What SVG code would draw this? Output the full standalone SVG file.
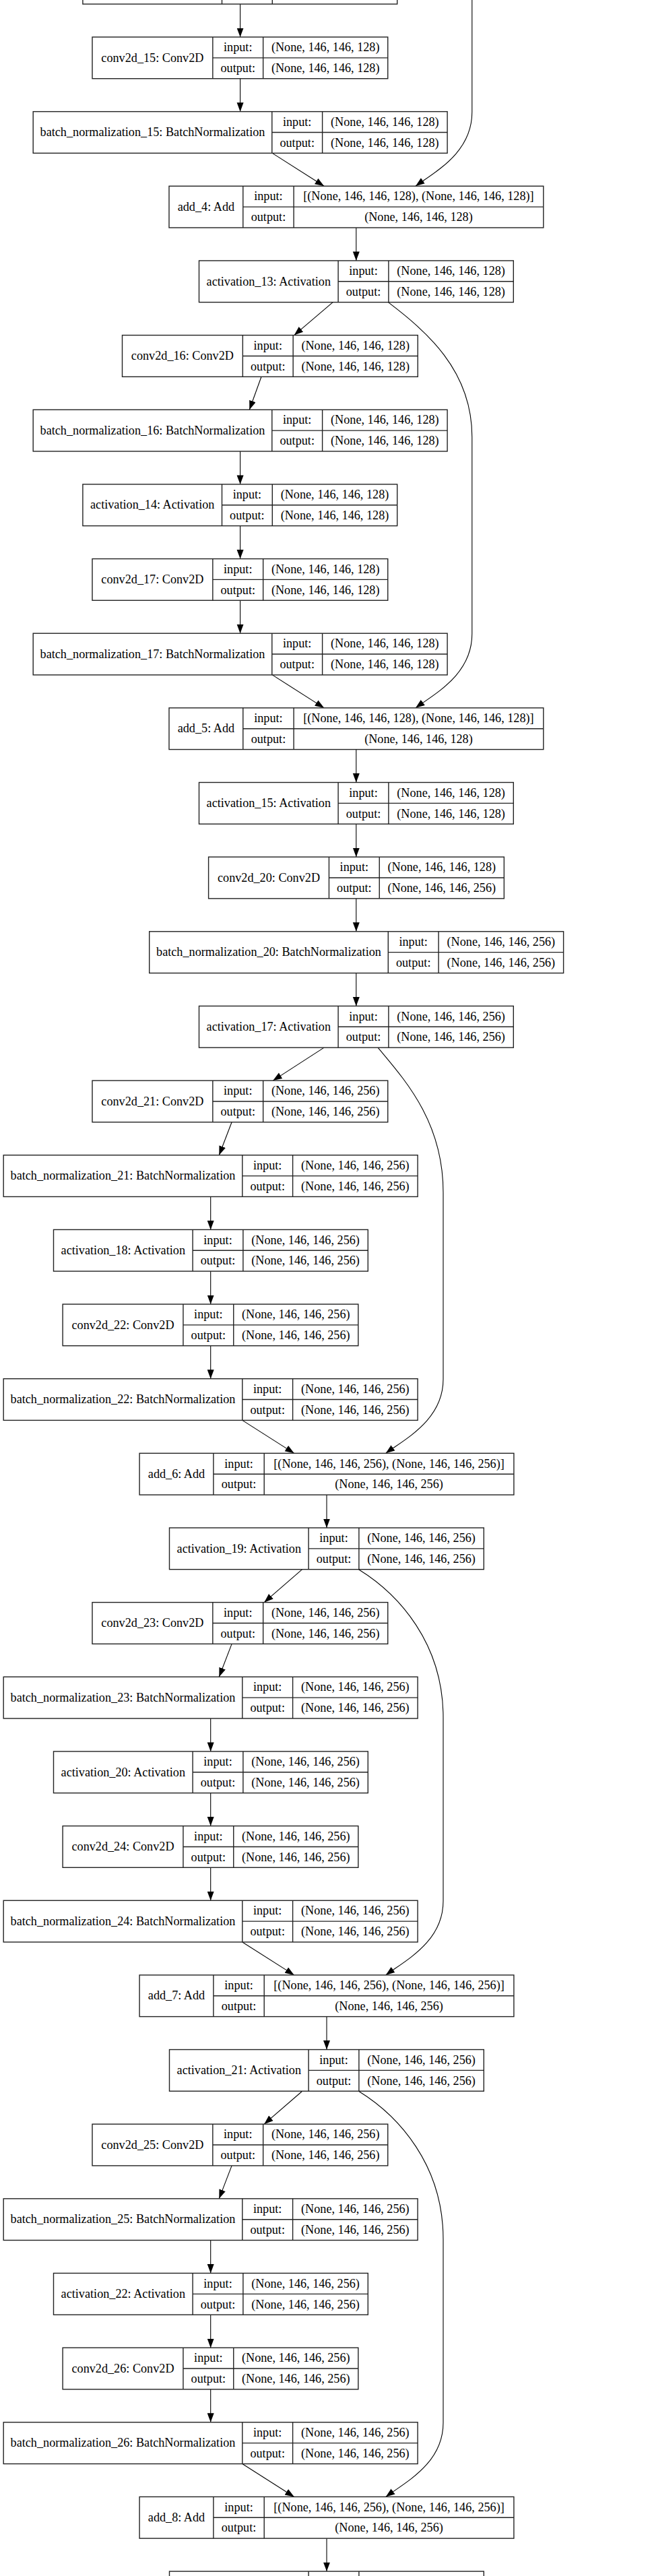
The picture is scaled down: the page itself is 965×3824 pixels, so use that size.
<svg xmlns="http://www.w3.org/2000/svg" width="965" height="3824" viewBox="0 0 965 3824">
<style>
.b{fill:#fff;stroke:#222;stroke-width:1.4}
.d{fill:none;stroke:#222;stroke-width:1.4}
text{font-family:"Liberation Serif","Times New Roman",serif;font-size:18.2px;fill:#000;text-anchor:middle}
.e{fill:none;stroke:#000;stroke-width:1.1;marker-end:url(#ah)}
</style>
<defs>
<marker id="ah" markerUnits="userSpaceOnUse" markerWidth="14" markerHeight="11" refX="13.5" refY="5" orient="auto"><path d="M0,0L13.5,5L0,10z" fill="#000"/></marker>
</defs>
<rect width="965" height="3824" fill="#fff"/>
<g id="connectors">
<path class="e" d="M356.6,6.05V55"/>
<path class="e" d="M356.6,116.7V165.65"/>
<path class="e" d="M404.3,227.35L481.1,276.3"/>
<path class="e" d="M700.8,0V166.3C700.8,226.3 647,254.3 617,276.3"/>
<path class="e" d="M528.8,338V386.95"/>
<path class="e" d="M494.2,448.65L436.7,497.6"/>
<path class="e" d="M576.3,448.65C631.3,490.65 700.8,548.65 700.8,648.65L700.8,940.85C700.8,1000.85 647,1028.85 617,1050.85"/>
<path class="e" d="M388,559.3L370.3,608.25"/>
<path class="e" d="M356.6,669.95V718.9"/>
<path class="e" d="M356.6,780.6V829.55"/>
<path class="e" d="M356.6,891.25V940.2"/>
<path class="e" d="M404.3,1001.9L481.1,1050.85"/>
<path class="e" d="M528.8,1112.55V1161.5"/>
<path class="e" d="M528.8,1223.2V1272.15"/>
<path class="e" d="M528.8,1333.85V1382.8"/>
<path class="e" d="M528.8,1444.5V1493.45"/>
<path class="e" d="M481.1,1555.15L405.3,1604.1"/>
<path class="e" d="M561.1,1555.15C601.1,1603.15 658,1665.15 658,1770.15L658,2047.35C658,2107.35 602.7,2135.35 572.7,2157.35"/>
<path class="e" d="M344.1,1665.8L325.3,1714.75"/>
<path class="e" d="M312.7,1776.45V1825.4"/>
<path class="e" d="M312.7,1887.1V1936.05"/>
<path class="e" d="M312.7,1997.75V2046.7"/>
<path class="e" d="M359.8,2108.4L436.7,2157.35"/>
<path class="e" d="M485,2219.05V2268"/>
<path class="e" d="M448.7,2329.7L392.2,2378.65"/>
<path class="e" d="M532.4,2329.7C592.4,2366.7 658,2439.7 658,2549.7L658,2821.9C658,2881.9 602.7,2909.9 572.7,2931.9"/>
<path class="e" d="M344.1,2440.35L325.3,2489.3"/>
<path class="e" d="M312.7,2551V2599.95"/>
<path class="e" d="M312.7,2661.65V2710.6"/>
<path class="e" d="M312.7,2772.3V2821.25"/>
<path class="e" d="M359.8,2882.95L436.7,2931.9"/>
<path class="e" d="M485,2993.6V3042.55"/>
<path class="e" d="M448.7,3104.25L392.2,3153.2"/>
<path class="e" d="M532.4,3104.25C592.4,3141.25 658,3214.25 658,3324.25L658,3596.45C658,3656.45 602.7,3684.45 572.7,3706.45"/>
<path class="e" d="M344.1,3214.9L325.3,3263.85"/>
<path class="e" d="M312.7,3325.55V3374.5"/>
<path class="e" d="M312.7,3436.2V3485.15"/>
<path class="e" d="M312.7,3546.85V3595.8"/>
<path class="e" d="M359.8,3657.5L436.7,3706.45"/>
<path class="e" d="M485,3768.15V3817.1"/>
</g>
<g id="activation_12" transform="translate(122.9,-55.65)"><rect class="b" width="466.8" height="61.7"/><path class="d" d="M206.6,0V61.7M281.4,0V61.7M206.6,30.85H466.8"/></g>
<g id="conv2d_15" transform="translate(137,55)"><rect class="b" width="438.75" height="61.7"/><path class="d" d="M178.85,0V61.7M253.65,0V61.7M178.85,30.85H438.75"/><text x="89.4" y="36.6">conv2d_15: Conv2D</text><text x="216.25" y="21.2">input:</text><text x="216.25" y="52">output:</text><text x="346.2" y="21.2">(None, 146, 146, 128)</text><text x="346.2" y="52">(None, 146, 146, 128)</text></g>
<g id="batch_normalization_15" transform="translate(49.2,165.65)"><rect class="b" width="614.9" height="61.7"/><path class="d" d="M354.6,0V61.7M429.4,0V61.7M354.6,30.85H614.9"/><text x="177.3" y="36.6">batch_normalization_15: BatchNormalization</text><text x="392" y="21.2">input:</text><text x="392" y="52">output:</text><text x="522.15" y="21.2">(None, 146, 146, 128)</text><text x="522.15" y="52">(None, 146, 146, 128)</text></g>
<g id="add_4" transform="translate(251,276.3)"><rect class="b" width="555.8" height="61.7"/><path class="d" d="M109.8,0V61.7M185.1,0V61.7M109.8,30.85H555.8"/><text x="54.9" y="36.6">add_4: Add</text><text x="147.45" y="21.2">input:</text><text x="147.45" y="52">output:</text><text x="370.45" y="21.2">[(None, 146, 146, 128), (None, 146, 146, 128)]</text><text x="370.45" y="52">(None, 146, 146, 128)</text></g>
<g id="activation_13" transform="translate(295.5,386.95)"><rect class="b" width="466.8" height="61.7"/><path class="d" d="M206.6,0V61.7M281.4,0V61.7M206.6,30.85H466.8"/><text x="103.3" y="36.6">activation_13: Activation</text><text x="244" y="21.2">input:</text><text x="244" y="52">output:</text><text x="374.1" y="21.2">(None, 146, 146, 128)</text><text x="374.1" y="52">(None, 146, 146, 128)</text></g>
<g id="conv2d_16" transform="translate(181.5,497.6)"><rect class="b" width="438.75" height="61.7"/><path class="d" d="M178.85,0V61.7M253.65,0V61.7M178.85,30.85H438.75"/><text x="89.4" y="36.6">conv2d_16: Conv2D</text><text x="216.25" y="21.2">input:</text><text x="216.25" y="52">output:</text><text x="346.2" y="21.2">(None, 146, 146, 128)</text><text x="346.2" y="52">(None, 146, 146, 128)</text></g>
<g id="batch_normalization_16" transform="translate(49.2,608.25)"><rect class="b" width="614.9" height="61.7"/><path class="d" d="M354.6,0V61.7M429.4,0V61.7M354.6,30.85H614.9"/><text x="177.3" y="36.6">batch_normalization_16: BatchNormalization</text><text x="392" y="21.2">input:</text><text x="392" y="52">output:</text><text x="522.15" y="21.2">(None, 146, 146, 128)</text><text x="522.15" y="52">(None, 146, 146, 128)</text></g>
<g id="activation_14" transform="translate(122.9,718.9)"><rect class="b" width="466.8" height="61.7"/><path class="d" d="M206.6,0V61.7M281.4,0V61.7M206.6,30.85H466.8"/><text x="103.3" y="36.6">activation_14: Activation</text><text x="244" y="21.2">input:</text><text x="244" y="52">output:</text><text x="374.1" y="21.2">(None, 146, 146, 128)</text><text x="374.1" y="52">(None, 146, 146, 128)</text></g>
<g id="conv2d_17" transform="translate(137,829.55)"><rect class="b" width="438.75" height="61.7"/><path class="d" d="M178.85,0V61.7M253.65,0V61.7M178.85,30.85H438.75"/><text x="89.4" y="36.6">conv2d_17: Conv2D</text><text x="216.25" y="21.2">input:</text><text x="216.25" y="52">output:</text><text x="346.2" y="21.2">(None, 146, 146, 128)</text><text x="346.2" y="52">(None, 146, 146, 128)</text></g>
<g id="batch_normalization_17" transform="translate(49.2,940.2)"><rect class="b" width="614.9" height="61.7"/><path class="d" d="M354.6,0V61.7M429.4,0V61.7M354.6,30.85H614.9"/><text x="177.3" y="36.6">batch_normalization_17: BatchNormalization</text><text x="392" y="21.2">input:</text><text x="392" y="52">output:</text><text x="522.15" y="21.2">(None, 146, 146, 128)</text><text x="522.15" y="52">(None, 146, 146, 128)</text></g>
<g id="add_5" transform="translate(251,1050.85)"><rect class="b" width="555.8" height="61.7"/><path class="d" d="M109.8,0V61.7M185.1,0V61.7M109.8,30.85H555.8"/><text x="54.9" y="36.6">add_5: Add</text><text x="147.45" y="21.2">input:</text><text x="147.45" y="52">output:</text><text x="370.45" y="21.2">[(None, 146, 146, 128), (None, 146, 146, 128)]</text><text x="370.45" y="52">(None, 146, 146, 128)</text></g>
<g id="activation_15" transform="translate(295.5,1161.5)"><rect class="b" width="466.8" height="61.7"/><path class="d" d="M206.6,0V61.7M281.4,0V61.7M206.6,30.85H466.8"/><text x="103.3" y="36.6">activation_15: Activation</text><text x="244" y="21.2">input:</text><text x="244" y="52">output:</text><text x="374.1" y="21.2">(None, 146, 146, 128)</text><text x="374.1" y="52">(None, 146, 146, 128)</text></g>
<g id="conv2d_20" transform="translate(309.6,1272.15)"><rect class="b" width="438.75" height="61.7"/><path class="d" d="M178.85,0V61.7M253.65,0V61.7M178.85,30.85H438.75"/><text x="89.4" y="36.6">conv2d_20: Conv2D</text><text x="216.25" y="21.2">input:</text><text x="216.25" y="52">output:</text><text x="346.2" y="21.2">(None, 146, 146, 128)</text><text x="346.2" y="52">(None, 146, 146, 256)</text></g>
<g id="batch_normalization_20" transform="translate(221.7,1382.8)"><rect class="b" width="614.9" height="61.7"/><path class="d" d="M354.6,0V61.7M429.4,0V61.7M354.6,30.85H614.9"/><text x="177.3" y="36.6">batch_normalization_20: BatchNormalization</text><text x="392" y="21.2">input:</text><text x="392" y="52">output:</text><text x="522.15" y="21.2">(None, 146, 146, 256)</text><text x="522.15" y="52">(None, 146, 146, 256)</text></g>
<g id="activation_17" transform="translate(295.5,1493.45)"><rect class="b" width="466.8" height="61.7"/><path class="d" d="M206.6,0V61.7M281.4,0V61.7M206.6,30.85H466.8"/><text x="103.3" y="36.6">activation_17: Activation</text><text x="244" y="21.2">input:</text><text x="244" y="52">output:</text><text x="374.1" y="21.2">(None, 146, 146, 256)</text><text x="374.1" y="52">(None, 146, 146, 256)</text></g>
<g id="conv2d_21" transform="translate(137,1604.1)"><rect class="b" width="438.75" height="61.7"/><path class="d" d="M178.85,0V61.7M253.65,0V61.7M178.85,30.85H438.75"/><text x="89.4" y="36.6">conv2d_21: Conv2D</text><text x="216.25" y="21.2">input:</text><text x="216.25" y="52">output:</text><text x="346.2" y="21.2">(None, 146, 146, 256)</text><text x="346.2" y="52">(None, 146, 146, 256)</text></g>
<g id="batch_normalization_21" transform="translate(5.2,1714.75)"><rect class="b" width="614.9" height="61.7"/><path class="d" d="M354.6,0V61.7M429.4,0V61.7M354.6,30.85H614.9"/><text x="177.3" y="36.6">batch_normalization_21: BatchNormalization</text><text x="392" y="21.2">input:</text><text x="392" y="52">output:</text><text x="522.15" y="21.2">(None, 146, 146, 256)</text><text x="522.15" y="52">(None, 146, 146, 256)</text></g>
<g id="activation_18" transform="translate(79.5,1825.4)"><rect class="b" width="466.8" height="61.7"/><path class="d" d="M206.6,0V61.7M281.4,0V61.7M206.6,30.85H466.8"/><text x="103.3" y="36.6">activation_18: Activation</text><text x="244" y="21.2">input:</text><text x="244" y="52">output:</text><text x="374.1" y="21.2">(None, 146, 146, 256)</text><text x="374.1" y="52">(None, 146, 146, 256)</text></g>
<g id="conv2d_22" transform="translate(93.1,1936.05)"><rect class="b" width="438.75" height="61.7"/><path class="d" d="M178.85,0V61.7M253.65,0V61.7M178.85,30.85H438.75"/><text x="89.4" y="36.6">conv2d_22: Conv2D</text><text x="216.25" y="21.2">input:</text><text x="216.25" y="52">output:</text><text x="346.2" y="21.2">(None, 146, 146, 256)</text><text x="346.2" y="52">(None, 146, 146, 256)</text></g>
<g id="batch_normalization_22" transform="translate(5.2,2046.7)"><rect class="b" width="614.9" height="61.7"/><path class="d" d="M354.6,0V61.7M429.4,0V61.7M354.6,30.85H614.9"/><text x="177.3" y="36.6">batch_normalization_22: BatchNormalization</text><text x="392" y="21.2">input:</text><text x="392" y="52">output:</text><text x="522.15" y="21.2">(None, 146, 146, 256)</text><text x="522.15" y="52">(None, 146, 146, 256)</text></g>
<g id="add_6" transform="translate(207.1,2157.35)"><rect class="b" width="555.8" height="61.7"/><path class="d" d="M109.8,0V61.7M185.1,0V61.7M109.8,30.85H555.8"/><text x="54.9" y="36.6">add_6: Add</text><text x="147.45" y="21.2">input:</text><text x="147.45" y="52">output:</text><text x="370.45" y="21.2">[(None, 146, 146, 256), (None, 146, 146, 256)]</text><text x="370.45" y="52">(None, 146, 146, 256)</text></g>
<g id="activation_19" transform="translate(251.5,2268)"><rect class="b" width="466.8" height="61.7"/><path class="d" d="M206.6,0V61.7M281.4,0V61.7M206.6,30.85H466.8"/><text x="103.3" y="36.6">activation_19: Activation</text><text x="244" y="21.2">input:</text><text x="244" y="52">output:</text><text x="374.1" y="21.2">(None, 146, 146, 256)</text><text x="374.1" y="52">(None, 146, 146, 256)</text></g>
<g id="conv2d_23" transform="translate(137,2378.65)"><rect class="b" width="438.75" height="61.7"/><path class="d" d="M178.85,0V61.7M253.65,0V61.7M178.85,30.85H438.75"/><text x="89.4" y="36.6">conv2d_23: Conv2D</text><text x="216.25" y="21.2">input:</text><text x="216.25" y="52">output:</text><text x="346.2" y="21.2">(None, 146, 146, 256)</text><text x="346.2" y="52">(None, 146, 146, 256)</text></g>
<g id="batch_normalization_23" transform="translate(5.2,2489.3)"><rect class="b" width="614.9" height="61.7"/><path class="d" d="M354.6,0V61.7M429.4,0V61.7M354.6,30.85H614.9"/><text x="177.3" y="36.6">batch_normalization_23: BatchNormalization</text><text x="392" y="21.2">input:</text><text x="392" y="52">output:</text><text x="522.15" y="21.2">(None, 146, 146, 256)</text><text x="522.15" y="52">(None, 146, 146, 256)</text></g>
<g id="activation_20" transform="translate(79.5,2599.95)"><rect class="b" width="466.8" height="61.7"/><path class="d" d="M206.6,0V61.7M281.4,0V61.7M206.6,30.85H466.8"/><text x="103.3" y="36.6">activation_20: Activation</text><text x="244" y="21.2">input:</text><text x="244" y="52">output:</text><text x="374.1" y="21.2">(None, 146, 146, 256)</text><text x="374.1" y="52">(None, 146, 146, 256)</text></g>
<g id="conv2d_24" transform="translate(93.1,2710.6)"><rect class="b" width="438.75" height="61.7"/><path class="d" d="M178.85,0V61.7M253.65,0V61.7M178.85,30.85H438.75"/><text x="89.4" y="36.6">conv2d_24: Conv2D</text><text x="216.25" y="21.2">input:</text><text x="216.25" y="52">output:</text><text x="346.2" y="21.2">(None, 146, 146, 256)</text><text x="346.2" y="52">(None, 146, 146, 256)</text></g>
<g id="batch_normalization_24" transform="translate(5.2,2821.25)"><rect class="b" width="614.9" height="61.7"/><path class="d" d="M354.6,0V61.7M429.4,0V61.7M354.6,30.85H614.9"/><text x="177.3" y="36.6">batch_normalization_24: BatchNormalization</text><text x="392" y="21.2">input:</text><text x="392" y="52">output:</text><text x="522.15" y="21.2">(None, 146, 146, 256)</text><text x="522.15" y="52">(None, 146, 146, 256)</text></g>
<g id="add_7" transform="translate(207.1,2931.9)"><rect class="b" width="555.8" height="61.7"/><path class="d" d="M109.8,0V61.7M185.1,0V61.7M109.8,30.85H555.8"/><text x="54.9" y="36.6">add_7: Add</text><text x="147.45" y="21.2">input:</text><text x="147.45" y="52">output:</text><text x="370.45" y="21.2">[(None, 146, 146, 256), (None, 146, 146, 256)]</text><text x="370.45" y="52">(None, 146, 146, 256)</text></g>
<g id="activation_21" transform="translate(251.5,3042.55)"><rect class="b" width="466.8" height="61.7"/><path class="d" d="M206.6,0V61.7M281.4,0V61.7M206.6,30.85H466.8"/><text x="103.3" y="36.6">activation_21: Activation</text><text x="244" y="21.2">input:</text><text x="244" y="52">output:</text><text x="374.1" y="21.2">(None, 146, 146, 256)</text><text x="374.1" y="52">(None, 146, 146, 256)</text></g>
<g id="conv2d_25" transform="translate(137,3153.2)"><rect class="b" width="438.75" height="61.7"/><path class="d" d="M178.85,0V61.7M253.65,0V61.7M178.85,30.85H438.75"/><text x="89.4" y="36.6">conv2d_25: Conv2D</text><text x="216.25" y="21.2">input:</text><text x="216.25" y="52">output:</text><text x="346.2" y="21.2">(None, 146, 146, 256)</text><text x="346.2" y="52">(None, 146, 146, 256)</text></g>
<g id="batch_normalization_25" transform="translate(5.2,3263.85)"><rect class="b" width="614.9" height="61.7"/><path class="d" d="M354.6,0V61.7M429.4,0V61.7M354.6,30.85H614.9"/><text x="177.3" y="36.6">batch_normalization_25: BatchNormalization</text><text x="392" y="21.2">input:</text><text x="392" y="52">output:</text><text x="522.15" y="21.2">(None, 146, 146, 256)</text><text x="522.15" y="52">(None, 146, 146, 256)</text></g>
<g id="activation_22" transform="translate(79.5,3374.5)"><rect class="b" width="466.8" height="61.7"/><path class="d" d="M206.6,0V61.7M281.4,0V61.7M206.6,30.85H466.8"/><text x="103.3" y="36.6">activation_22: Activation</text><text x="244" y="21.2">input:</text><text x="244" y="52">output:</text><text x="374.1" y="21.2">(None, 146, 146, 256)</text><text x="374.1" y="52">(None, 146, 146, 256)</text></g>
<g id="conv2d_26" transform="translate(93.1,3485.15)"><rect class="b" width="438.75" height="61.7"/><path class="d" d="M178.85,0V61.7M253.65,0V61.7M178.85,30.85H438.75"/><text x="89.4" y="36.6">conv2d_26: Conv2D</text><text x="216.25" y="21.2">input:</text><text x="216.25" y="52">output:</text><text x="346.2" y="21.2">(None, 146, 146, 256)</text><text x="346.2" y="52">(None, 146, 146, 256)</text></g>
<g id="batch_normalization_26" transform="translate(5.2,3595.8)"><rect class="b" width="614.9" height="61.7"/><path class="d" d="M354.6,0V61.7M429.4,0V61.7M354.6,30.85H614.9"/><text x="177.3" y="36.6">batch_normalization_26: BatchNormalization</text><text x="392" y="21.2">input:</text><text x="392" y="52">output:</text><text x="522.15" y="21.2">(None, 146, 146, 256)</text><text x="522.15" y="52">(None, 146, 146, 256)</text></g>
<g id="add_8" transform="translate(207.1,3706.45)"><rect class="b" width="555.8" height="61.7"/><path class="d" d="M109.8,0V61.7M185.1,0V61.7M109.8,30.85H555.8"/><text x="54.9" y="36.6">add_8: Add</text><text x="147.45" y="21.2">input:</text><text x="147.45" y="52">output:</text><text x="370.45" y="21.2">[(None, 146, 146, 256), (None, 146, 146, 256)]</text><text x="370.45" y="52">(None, 146, 146, 256)</text></g>
<g id="activation_23" transform="translate(251.5,3817.1)"><rect class="b" width="466.8" height="61.7"/><path class="d" d="M206.6,0V61.7M281.4,0V61.7M206.6,30.85H466.8"/></g>
</svg>
